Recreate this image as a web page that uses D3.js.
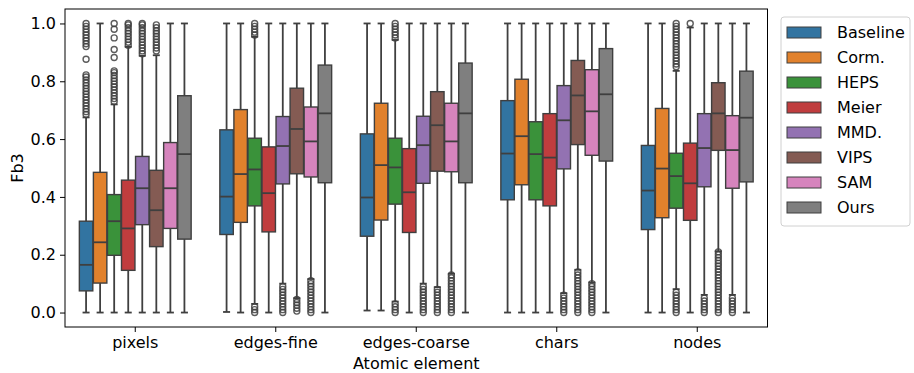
<!DOCTYPE html>
<html>
<head>
<meta charset="utf-8">
<script src="https://cdn.jsdelivr.net/npm/d3@7"></script>
<style>
  body { margin: 0; background: #fff; }
  svg { font-family: "DejaVu Sans", sans-serif; }
</style>
</head>
<body>
<div id="chart"></div>
<script>
const categories = ["pixels", "edges-fine", "edges-coarse", "chars", "nodes"];
const methods = ["Baseline", "Corm.", "HEPS", "Meier", "MMD.", "VIPS", "SAM", "Ours"];
const colors = ["#3274a1", "#e1812c", "#3a923a", "#c03d3e", "#9372b2", "#845b53", "#d684bd", "#7f7f7f"];
const yTicks = [0, 0.2, 0.4, 0.6, 0.8, 1.0];

// [whisker low, q1, median, q3, whisker high] per method
const pixelsStats = [
  [0, 0.075, 0.165, 0.316, 0.675], [0, 0.102, 0.243, 0.485, 1.0],
  [0, 0.198, 0.316, 0.408, 0.72], [0, 0.146, 0.291, 0.458, 0.919],
  [0, 0.304, 0.43, 0.54, 0.888], [0, 0.228, 0.354, 0.492, 0.89],
  [0, 0.291, 0.43, 0.588, 1.0], [0, 0.254, 0.548, 0.75, 1.0]
];
const edgesFineStats = [
  [0.002, 0.27, 0.401, 0.632, 1.0], [0, 0.312, 0.479, 0.702, 1.0],
  [0.03, 0.369, 0.495, 0.603, 0.954], [0, 0.279, 0.413, 0.573, 1.0],
  [0.10, 0.445, 0.576, 0.678, 1.0], [0.05, 0.48, 0.635, 0.776, 1.0],
  [0.116, 0.469, 0.592, 0.711, 1.0], [0, 0.449, 0.689, 0.856, 1.0]
];
const edgesCoarseStats = [
  [0.007, 0.264, 0.398, 0.618, 1.0], [0.007, 0.32, 0.51, 0.724, 1.0],
  [0.038, 0.375, 0.502, 0.603, 0.943], [0, 0.277, 0.416, 0.567, 1.0],
  [0.10, 0.447, 0.579, 0.679, 1.0], [0.088, 0.489, 0.648, 0.764, 1.0],
  [0.134, 0.487, 0.592, 0.724, 1.0], [0, 0.449, 0.689, 0.863, 1.0]
];
const charsStats = [
  [0, 0.39, 0.55, 0.733, 1.0], [0, 0.442, 0.61, 0.807, 1.0],
  [0, 0.39, 0.548, 0.66, 1.0], [0, 0.369, 0.536, 0.688, 1.0],
  [0.067, 0.497, 0.665, 0.785, 1.0], [0.148, 0.581, 0.751, 0.872, 1.0],
  [0.104, 0.544, 0.696, 0.84, 1.0], [0, 0.524, 0.755, 0.913, 1.0]
];
const nodesStats = [
  [0, 0.287, 0.422, 0.578, 1.0], [0, 0.328, 0.498, 0.706, 1.0],
  [0.081, 0.361, 0.472, 0.551, 0.836], [0, 0.319, 0.447, 0.586, 0.986],
  [0.061, 0.435, 0.569, 0.688, 1.0], [0.212, 0.561, 0.689, 0.795, 1.0],
  [0.061, 0.43, 0.562, 0.681, 1.0], [0, 0.452, 0.674, 0.835, 1.0]
];

// outlier values per method
const pixelsOutliers = [
  [0.685, 0.695, 0.705, 0.715, 0.725, 0.735, 0.745, 0.755, 0.765, 0.775, 0.785, 0.795, 0.805, 0.815, 0.822,
   0.876, 0.92, 0.93, 0.94, 0.95, 0.96, 0.97, 0.98, 0.99, 1.0],
  [],
  [0.73, 0.74, 0.75, 0.76, 0.77, 0.78, 0.79, 0.80, 0.81, 0.82, 0.83, 0.836, 0.882, 0.91, 0.95, 0.98, 1.0],
  [0.925, 0.935, 0.945, 0.955, 0.965, 0.975, 0.985, 0.995, 1.0],
  [0.895, 0.905, 0.915, 0.925, 0.935, 0.945, 0.955, 0.965, 0.975, 0.985, 0.995, 1.0],
  [0.905, 0.915, 0.925, 0.935, 0.945, 0.955, 0.965, 0.975, 0.985, 0.995],
  [], []
];
const edgesFineOutliers = [
  [], [],
  [0, 0.01, 0.02, 0.96, 0.97, 0.98, 0.99, 1.0],
  [],
  [0, 0.01, 0.02, 0.03, 0.04, 0.05, 0.06, 0.07, 0.08, 0.09],
  [0.005, 0.015, 0.025, 0.035, 0.045],
  [0, 0.01, 0.02, 0.03, 0.04, 0.05, 0.06, 0.07, 0.08, 0.09, 0.10, 0.11],
  []
];
const edgesCoarseOutliers = [
  [], [],
  [0, 0.01, 0.02, 0.03, 0.95, 0.96, 0.97, 0.98, 0.99, 1.0],
  [],
  [0, 0.01, 0.02, 0.03, 0.04, 0.05, 0.06, 0.07, 0.08, 0.09],
  [0, 0.01, 0.02, 0.03, 0.04, 0.05, 0.06, 0.07, 0.08],
  [0, 0.01, 0.02, 0.03, 0.04, 0.05, 0.06, 0.07, 0.08, 0.09, 0.10, 0.11, 0.12, 0.13],
  []
];
const charsOutliers = [
  [], [], [], [],
  [0, 0.01, 0.02, 0.03, 0.04, 0.05, 0.06],
  [0, 0.01, 0.02, 0.03, 0.04, 0.05, 0.06, 0.07, 0.08, 0.09, 0.10, 0.11, 0.12, 0.13, 0.14],
  [0, 0.01, 0.02, 0.03, 0.04, 0.05, 0.06, 0.07, 0.08, 0.09, 0.10],
  []
];
const nodesOutliers = [
  [], [],
  [0, 0.01, 0.02, 0.03, 0.04, 0.05, 0.06, 0.07, 0.85, 0.86, 0.87, 0.88, 0.89, 0.90, 0.91, 0.92, 0.93, 0.94, 0.95, 0.96, 0.97, 0.98, 0.99, 1.0],
  [1.0],
  [0, 0.01, 0.02, 0.03, 0.04, 0.05],
  [0, 0.01, 0.02, 0.03, 0.04, 0.05, 0.06, 0.07, 0.08, 0.09, 0.10, 0.11, 0.12, 0.13, 0.14, 0.15, 0.16, 0.17, 0.18, 0.19, 0.20, 0.21],
  [0, 0.01, 0.02, 0.03, 0.04, 0.05],
  []
];

const allStats = [pixelsStats, edgesFineStats, edgesCoarseStats, charsStats, nodesStats];
const allOutliers = [pixelsOutliers, edgesFineOutliers, edgesCoarseOutliers, charsOutliers, nodesOutliers];

const W = 914, H = 373;
const plotL = 65, plotR = 767.5, plotT = 9, plotB = 327;
const lineColor = "#3f3f3f";

const svg = d3.select("#chart").append("svg")
  .attr("width", W).attr("height", H);

const x = d3.scaleBand().domain(categories).range([plotL, plotR]).padding(0);
const hue = d3.scaleBand().domain(methods).range([0, x.bandwidth() * 0.8]).padding(0);
const y = d3.scaleLinear().domain([-0.05, 1.05]).range([plotB, plotT]);

const boxW = hue.bandwidth() - 0.6;
const capW = hue.bandwidth() * 0.5;

const rows = [];
categories.forEach((c, ci) => {
  methods.forEach((m, mi) => {
    rows.push({cat: c, method: m, mi: mi, s: allStats[ci][mi], out: allOutliers[ci][mi]});
  });
});

const cx = d => x(d.cat) + x.bandwidth() * 0.1 + hue(d.method) + hue.bandwidth() / 2;

const g = svg.append("g");
const groups = g.selectAll("g.box").data(rows).enter().append("g").attr("class", "box");

// whiskers
groups.append("line")
  .attr("x1", cx).attr("x2", cx)
  .attr("y1", d => y(d.s[0])).attr("y2", d => y(d.s[1]))
  .attr("stroke", lineColor).attr("stroke-width", 1.8);
groups.append("line")
  .attr("x1", cx).attr("x2", cx)
  .attr("y1", d => y(d.s[3])).attr("y2", d => y(d.s[4]))
  .attr("stroke", lineColor).attr("stroke-width", 1.8);
// caps
[0, 4].forEach(k => {
  groups.append("line")
    .attr("x1", d => cx(d) - capW / 2).attr("x2", d => cx(d) + capW / 2)
    .attr("y1", d => y(d.s[k])).attr("y2", d => y(d.s[k]))
    .attr("stroke", lineColor).attr("stroke-width", 1.8);
});
// boxes
groups.append("rect")
  .attr("x", d => cx(d) - boxW / 2)
  .attr("width", boxW)
  .attr("y", d => y(d.s[3]))
  .attr("height", d => y(d.s[1]) - y(d.s[3]))
  .attr("fill", d => colors[d.mi])
  .attr("stroke", lineColor).attr("stroke-width", 1.4);
// medians
groups.append("line")
  .attr("x1", d => cx(d) - boxW / 2).attr("x2", d => cx(d) + boxW / 2)
  .attr("y1", d => y(d.s[2])).attr("y2", d => y(d.s[2]))
  .attr("stroke", lineColor).attr("stroke-width", 1.8);
// outliers
groups.each(function(d) {
  d3.select(this).selectAll("circle").data(d.out).enter().append("circle")
    .attr("cx", cx(d)).attr("cy", v => y(v)).attr("r", 3)
    .attr("fill", "none").attr("stroke", lineColor).attr("stroke-opacity", 0.85).attr("stroke-width", 1.4);
});

// frame
svg.append("rect").attr("x", plotL).attr("y", plotT)
  .attr("width", plotR - plotL).attr("height", plotB - plotT)
  .attr("fill", "none").attr("stroke", "#000").attr("stroke-width", 1);

// axes
const yAxis = svg.append("g").attr("transform", `translate(${plotL},0)`)
  .call(d3.axisLeft(y).tickValues(yTicks).tickFormat(d3.format(".1f")).tickSize(5).tickPadding(4));
const xAxis = svg.append("g").attr("transform", `translate(0,${plotB})`)
  .call(d3.axisBottom(x).tickSize(5).tickPadding(5));
[yAxis, xAxis].forEach(a => {
  a.select(".domain").remove();
  a.selectAll("text").attr("font-size", 16).attr("font-family", "DejaVu Sans").attr("fill", "#000");
  a.selectAll("line").attr("stroke", "#000");
});

svg.append("text").attr("x", (plotL + plotR) / 2).attr("y", 369)
  .attr("text-anchor", "middle").attr("font-size", 16).text("Atomic element");
svg.append("text").attr("transform", `translate(23,${(plotT + plotB) / 2}) rotate(-90)`)
  .attr("text-anchor", "middle").attr("font-size", 16).text("Fb3");

// legend
const lg = svg.append("g").attr("transform", "translate(781,17)");
lg.append("rect").attr("width", 129).attr("height", 209).attr("rx", 3)
  .attr("fill", "#fff").attr("stroke", "#d0d0d0").attr("stroke-width", 1);
const items = lg.selectAll("g.item").data(methods).enter().append("g")
  .attr("transform", (d, i) => `translate(6,${10 + i * 25})`);
items.append("rect").attr("width", 34).attr("height", 11)
  .attr("fill", (d, i) => colors[i]).attr("stroke", lineColor).attr("stroke-width", 1);
items.append("text").attr("x", 50).attr("y", 5.5).attr("dy", "0.35em")
  .attr("font-size", 16).text(d => d);
</script>
</body>
</html>
